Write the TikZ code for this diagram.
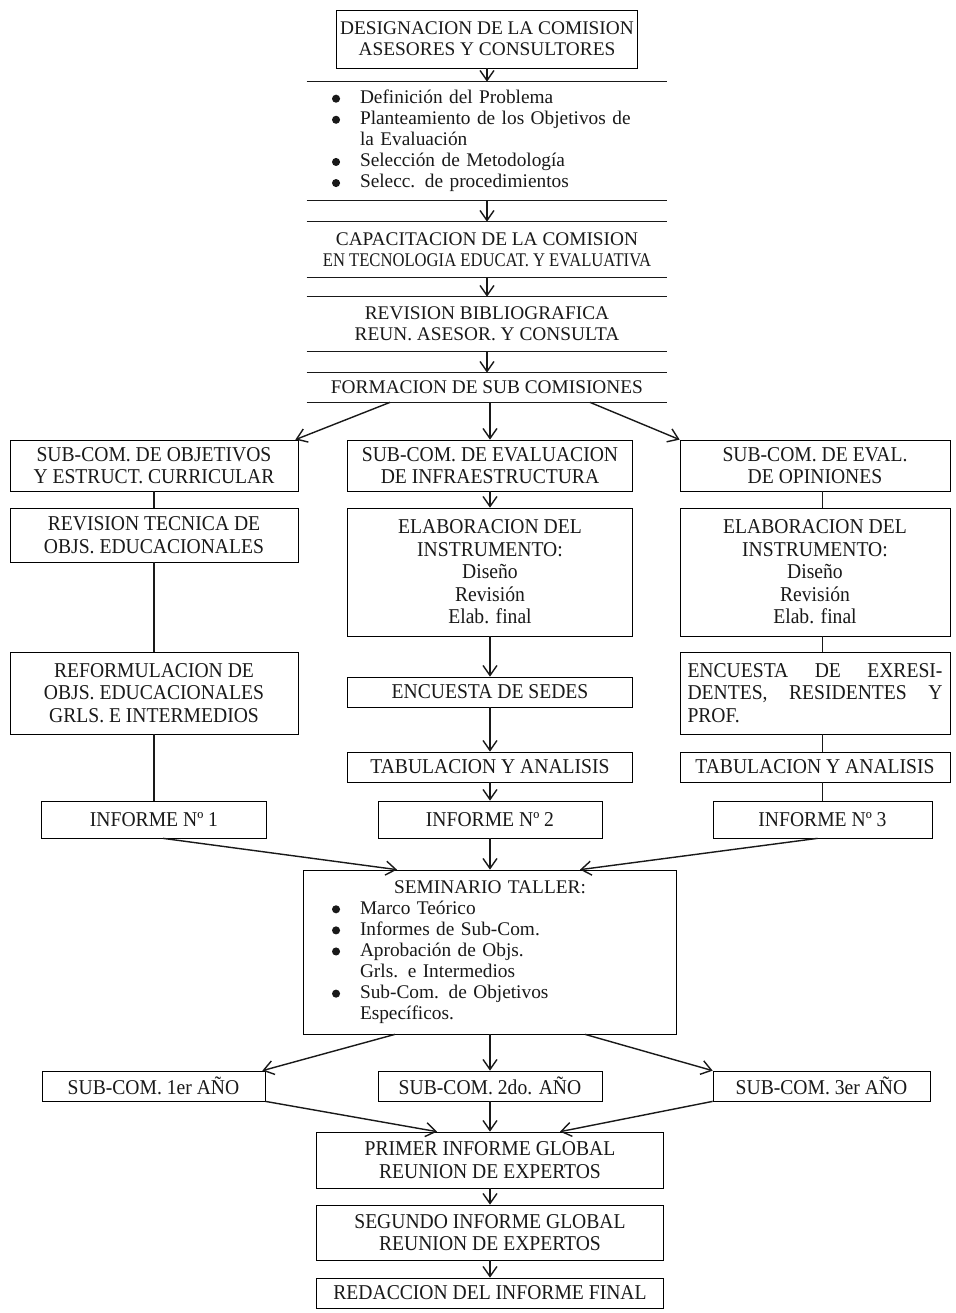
\documentclass[tikz,border=0pt]{standalone}
\usepackage{fontspec}
\setmainfont{Liberation Serif}
\newfontfamily\bajafont[FakeStretch=0.93]{Liberation Serif}
\usepackage{graphicx}
\usetikzlibrary{arrows.meta}

\newcommand{\punto}{\makebox[0.56cm][l]{\tikz[baseline=-0.55ex]\fill (0,0) circle (2.3pt);}}

\begin{document}
\begin{tikzpicture}[
  every node/.style={text=black!90},
  alta/.style={rectangle, inner sep=2pt, align=center, font=\fontsize{11}{12}\selectfont},
  caja/.style={rectangle, draw, inner sep=2pt, align=center, font=\bajafont\fontsize{12}{12.8}\selectfont},
  flecha/.style={-{Straight Barb[length=2mm,width=2.8mm]}}
]
\fill[white] (0,0) rectangle (19.1,-26.26);
\useasboundingbox (0,0) rectangle (19.1,-26.26);

% tramo comun
\node[alta, draw, minimum width=6cm, minimum height=1.16cm] (desig) at (9.74,-0.78) {DESIGNACION DE LA COMISION\\ASESORES Y CONSULTORES};
\node[alta, align=left, text width=6.2cm, inner xsep=0.5cm, minimum height=2.36cm] (tareas) at (9.74,-2.82) {\punto Definición del Problema\\ \punto Planteamiento de los Objetivos de\\ \hspace*{0.56cm}la Evaluación\\ \punto Selección de Metodología\\ \punto Selecc. de procedimientos};
\node[alta, minimum width=7.2cm, minimum height=1.10cm] (capac) at (9.74,-4.99) {CAPACITACION DE LA COMISION\\\scalebox{0.86}[1]{EN TECNOLOGIA EDUCAT. Y EVALUATIVA}};
\node[alta, minimum width=7.2cm, minimum height=1.08cm] (revis) at (9.74,-6.48) {REVISION BIBLIOGRAFICA\\REUN. ASESOR. Y CONSULTA};
\node[alta, minimum width=7.2cm, minimum height=0.58cm] (formac) at (9.74,-7.75) {FORMACION DE SUB COMISIONES};

% sub-comisiones
\node[caja, minimum width=5.76cm, minimum height=1.02cm] (obj1) at (3.08,-9.31) {SUB-COM. DE OBJETIVOS\\Y ESTRUCT. CURRICULAR};
\node[caja, minimum width=5.70cm, minimum height=1.02cm] (infra1) at (9.80,-9.31) {SUB-COM. DE EVALUACION\\DE INFRAESTRUCTURA};
\node[caja, minimum width=5.40cm, minimum height=1.02cm] (opin1) at (16.30,-9.31) {SUB-COM. DE EVAL.\\DE OPINIONES};

\node[caja, minimum width=5.76cm, minimum height=1.08cm] (obj2) at (3.08,-10.70) {REVISION TECNICA DE\\OBJS. EDUCACIONALES};
\node[caja, minimum width=5.70cm, minimum height=2.56cm] (infra2) at (9.80,-11.44) {ELABORACION DEL\\INSTRUMENTO:\\Diseño\\Revisión\\Elab. final};
\node[caja, minimum width=5.40cm, minimum height=2.56cm] (opin2) at (16.30,-11.44) {ELABORACION DEL\\INSTRUMENTO:\\Diseño\\Revisión\\Elab. final};

\node[caja, minimum width=5.76cm, minimum height=1.64cm] (obj3) at (3.08,-13.86) {REFORMULACION DE\\OBJS. EDUCACIONALES\\GRLS. E INTERMEDIOS};
\node[caja, minimum width=5.70cm, minimum height=0.60cm] (infra3) at (9.80,-13.84) {ENCUESTA DE SEDES};
\node[caja, align=left, text width=5.1cm, minimum width=5.40cm, minimum height=1.64cm] (opin3) at (16.30,-13.86) {ENCUESTA\hfill DE\hfill EXRESI-\\DENTES,\hfill RESIDENTES\hfill Y\\PROF.};

\node[caja, minimum width=5.70cm, minimum height=0.60cm] (infra4) at (9.80,-15.34) {TABULACION Y ANALISIS};
\node[caja, minimum width=5.40cm, minimum height=0.60cm] (opin4) at (16.30,-15.34) {TABULACION Y ANALISIS};

\node[caja, minimum width=4.50cm, minimum height=0.74cm] (inf1) at (3.08,-16.39) {INFORME Nº 1};
\node[caja, minimum width=4.48cm, minimum height=0.74cm] (inf2) at (9.80,-16.39) {INFORME Nº 2};
\node[caja, minimum width=4.38cm, minimum height=0.74cm] (inf3) at (16.45,-16.39) {INFORME Nº 3};

% seminario y cierre
\node[alta, draw, align=left, text width=6.32cm, inner xsep=0.57cm, minimum height=3.28cm] (semin) at (9.80,-19.04) {\makebox[\linewidth]{SEMINARIO TALLER:}\\ \punto Marco Teórico\\ \punto Informes de Sub-Com.\\ \punto Aprobación de Objs.\\ \hspace*{0.56cm}Grls. e Intermedios\\ \punto Sub-Com. de Objetivos\\ \hspace*{0.56cm}Específicos.};

\node[caja, minimum width=4.46cm, minimum height=0.60cm] (anio1) at (3.07,-21.72) {SUB-COM. 1er AÑO};
\node[caja, minimum width=4.48cm, minimum height=0.60cm] (anio2) at (9.80,-21.72) {SUB-COM. 2do. AÑO};
\node[caja, minimum width=4.34cm, minimum height=0.60cm] (anio3) at (16.43,-21.72) {SUB-COM. 3er AÑO};

\node[caja, minimum width=6.94cm, minimum height=1.12cm] (prim) at (9.80,-23.20) {PRIMER INFORME GLOBAL\\REUNION DE EXPERTOS};
\node[caja, minimum width=6.94cm, minimum height=1.10cm] (segu) at (9.80,-24.65) {SEGUNDO INFORME GLOBAL\\REUNION DE EXPERTOS};
\node[caja, minimum width=6.94cm, minimum height=0.60cm] (redac) at (9.80,-25.86) {REDACCION DEL INFORME FINAL};

% cajas abiertas: solo arriba y abajo
\draw[thick, black!90] (tareas.north west) -- (tareas.north east)
             (tareas.south west) -- (tareas.south east)
             (capac.north west) -- (capac.north east)
             (capac.south west) -- (capac.south east)
             (revis.north west) -- (revis.north east)
             (revis.south west) -- (revis.south east)
             (formac.north west) -- (formac.north east)
             (formac.south west) -- (formac.south east);

\path[thick, black!90, flecha] (desig) edge (tareas)
             (tareas) edge (capac)
             (capac) edge (revis)
             (revis) edge (formac)
             (formac.south -| infra1) edge (infra1)
             ([xshift=-1.94cm]formac.south) edge ([xshift=-0.06cm]obj1.north east)
             ([xshift=2.06cm]formac.south) edge (opin1.north west)
             (infra1) edge (infra2)
             (infra2) edge (infra3)
             (infra3) edge (infra4)
             (infra4) edge (inf2)
             ([xshift=0.18cm]inf1.south) edge ([xshift=-1.86cm]semin.north)
             (inf2) edge (semin)
             ([xshift=-0.1cm]inf3.south) edge ([xshift=1.8cm]semin.north)
             ([xshift=-1.9cm]semin.south) edge ([xshift=-0.06cm]anio1.north east)
             (semin) edge (anio2)
             ([xshift=1.9cm]semin.south) edge (anio3.north west)
             (anio1.south east) edge ([xshift=-1.06cm]prim.north)
             (anio2) edge (prim)
             (anio3.south west) edge ([xshift=1.4cm]prim.north)
             (prim) edge (segu)
             (segu) edge (redac);

\draw[thick, black!90] (obj1) -- (obj2)
             (obj2) -- (obj3)
             (obj3) -- (inf1)
             (opin1.south -| inf3) -- (opin2.north -| inf3)
             (opin2.south -| inf3) -- (opin3.north -| inf3)
             (opin3.south -| inf3) -- (opin4.north -| inf3)
             (opin4.south -| inf3) -- (inf3);
\end{tikzpicture}
\end{document}
